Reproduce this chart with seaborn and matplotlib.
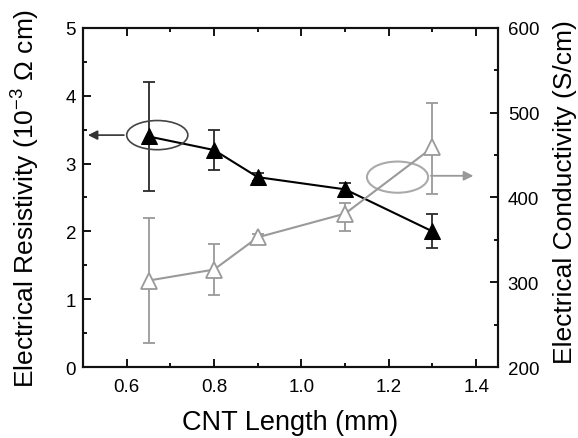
import matplotlib
matplotlib.use("Agg")
import matplotlib.pyplot as plt
import seaborn as sns
import pandas as pd
from matplotlib.patches import Ellipse
from matplotlib.ticker import MultipleLocator

# Data
cnt_length = [0.65, 0.8, 0.9, 1.1, 1.3]
resistivity = [3.4, 3.2, 2.8, 2.62, 2.0]
res_err_low = [0.8, 0.3, 0.06, 0.1, 0.25]
res_err_high = [0.8, 0.3, 0.06, 0.1, 0.25]
conductivity = [302, 315, 353, 381, 459]
cond_err_low = [74, 30, 4, 20, 55]
cond_err_high = [74, 30, 4, 12, 53]
x_ticks = [0.6, 0.8, 1.0, 1.2, 1.4]
x_ticklabels = ["0.6", "0.8", "1.0", "1.2", "1.4"]

sns.set_style("ticks")
plt.rcParams['font.family'] = ['Liberation Sans', 'DejaVu Sans']
plt.rcParams['mathtext.fontset'] = 'custom'
plt.rcParams['mathtext.rm'] = 'Liberation Sans'
plt.rcParams['mathtext.it'] = 'Liberation Sans'
plt.rcParams['text.color'] = 'black'
plt.rcParams['axes.labelcolor'] = 'black'
plt.rcParams['xtick.color'] = 'black'
plt.rcParams['ytick.color'] = 'black'

fig = plt.figure(figsize=(5.78, 4.39), dpi=100)
ax = fig.add_axes([0.1436, 0.1617, 0.718, 0.7723])
ax2 = ax.twinx()

df_r = pd.DataFrame({"x": cnt_length, "y": resistivity})
df_c = pd.DataFrame({"x": cnt_length, "y": conductivity})

black = "#000000"
gray = "#9a9a9a"

ax.errorbar(cnt_length, resistivity, yerr=[res_err_low, res_err_high], fmt="none",
            ecolor="#2a2a2a", elinewidth=1.3, capsize=4, capthick=1.3, zorder=3)
sns.lineplot(data=df_r, x="x", y="y", ax=ax, color=black, lw=1.5, marker="^",
             markersize=12, markerfacecolor=black, markeredgecolor=black, zorder=4)

ax2.errorbar(cnt_length, conductivity, yerr=[cond_err_low, cond_err_high], fmt="none",
             ecolor=gray, elinewidth=1.3, capsize=4, capthick=1.3, zorder=3)
sns.lineplot(data=df_c, x="x", y="y", ax=ax2, color=gray, lw=1.5, marker="^",
             markersize=12, markerfacecolor="white", markeredgecolor=gray,
             markeredgewidth=1.3, zorder=4)

ax.set_xlim(0.5, 1.45)
ax.set_ylim(0, 5)
ax2.set_ylim(200, 600)

# Annotation ellipses and arrows
ax.add_patch(Ellipse((0.67, 3.42), 0.14, 0.43, fill=False, edgecolor="#444444", lw=1.2, zorder=5))
ax.annotate("", xy=(0.505, 3.42), xytext=(0.6, 3.42),
            arrowprops=dict(arrowstyle="-|>", color="#333333", lw=1.2, mutation_scale=14))
ax.add_patch(Ellipse((1.22, 2.8), 0.14, 0.46, fill=False, edgecolor="#aaaaaa", lw=1.5, zorder=5))
ax.annotate("", xy=(1.40, 2.82), xytext=(1.29, 2.82),
            arrowprops=dict(arrowstyle="-|>", color="#999999", lw=1.3, mutation_scale=14))

ax.set_xticks(x_ticks)
ax.set_xticklabels(x_ticklabels)
ax.xaxis.set_minor_locator(MultipleLocator(0.1))
ax.yaxis.set_major_locator(MultipleLocator(1))
ax.yaxis.set_minor_locator(MultipleLocator(0.5))
ax2.yaxis.set_major_locator(MultipleLocator(100))
ax2.yaxis.set_minor_locator(MultipleLocator(50))

ax.tick_params(axis="both", which="both", direction="in", top=True, labelsize=13.5, width=1.3,
               colors="black")
ax.tick_params(which="major", length=6)
ax.tick_params(which="minor", length=3)
ax.tick_params(axis="x", which="major", pad=8)
ax.tick_params(axis="y", which="major", pad=5)
ax2.tick_params(axis="y", which="both", direction="in", labelsize=13.5, width=1.3, colors="black")
ax2.tick_params(which="major", length=6, pad=7)
ax2.tick_params(which="minor", length=3)
for a in (ax, ax2):
    for s in a.spines.values():
        s.set_linewidth(1.5)
        s.set_color("#111111")

ax.set_xlabel("CNT Length (mm)", fontsize=19.5, color="black")
ax.set_ylabel("Electrical Resistivity (10$^{-3}$ Ω cm)", fontsize=19, color="black")
ax2.set_ylabel("Electrical Conductivity (S/cm)", fontsize=19, color="black")
ax.xaxis.label.set_va("center")
ax.xaxis.set_label_coords(0.50, -0.162)
ax.yaxis.label.set_va("center")
ax.yaxis.set_label_coords(-0.138, 0.5)
ax2.yaxis.label.set_va("center")
ax2.yaxis.set_label_coords(1.161, 0.52)

fig.savefig("out.png", dpi=100)
